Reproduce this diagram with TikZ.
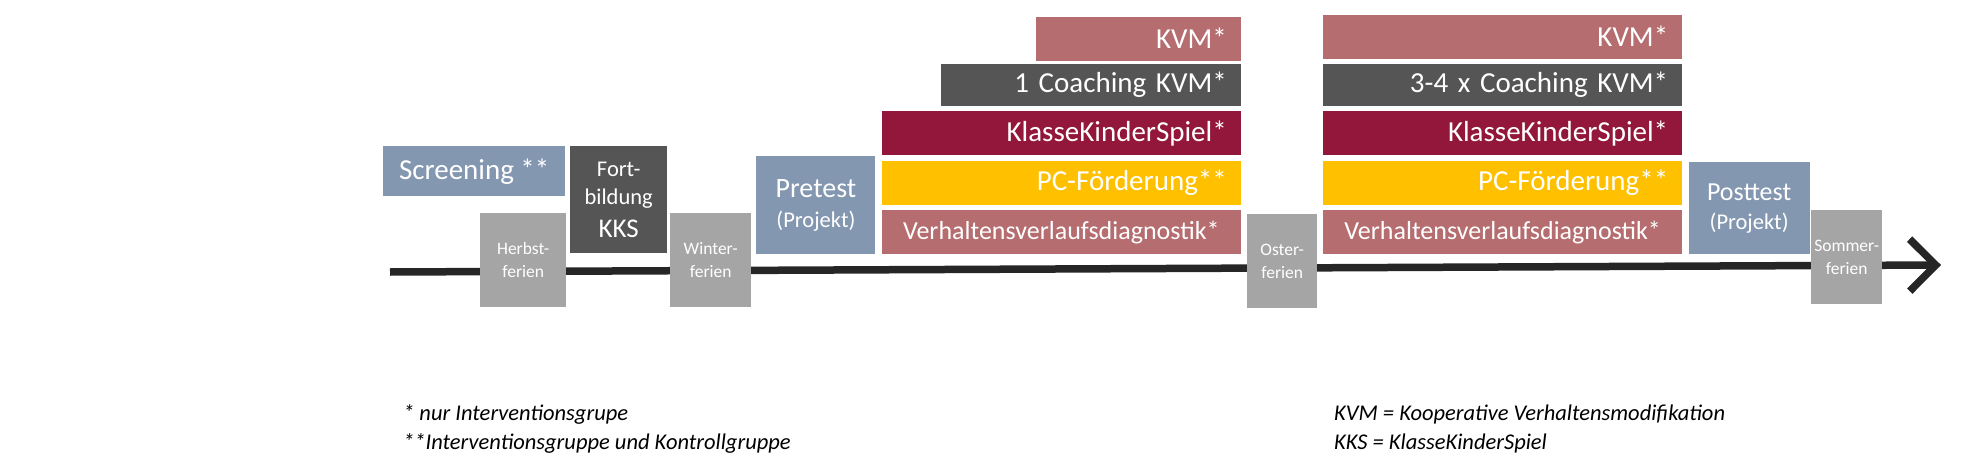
\documentclass[tikz,border=0pt]{standalone}
\usepackage{fontspec}
\setmainfont{Carlito}
\usetikzlibrary{arrows.meta,positioning}
\definecolor{testblue}{HTML}{8497B0}
\definecolor{darkbar}{HTML}{555555}
\definecolor{holgray}{HTML}{A5A5A5}
\definecolor{kvmrose}{HTML}{B56D70}
\definecolor{kksred}{HTML}{93173B}
\definecolor{pcgold}{HTML}{FFC000}
\definecolor{axisblack}{HTML}{262626}
\tikzset{
    phase/.style = {rectangle,fill=testblue,text=white,inner sep=0pt,align=center},
    holiday/.style = {rectangle,fill=holgray,text=white,inner sep=0pt,align=center,
                      minimum height=94pt,font=\fontsize{17.5}{23}\selectfont},
    bar/.style = {rectangle,text=white,inner xsep=14pt,inner ysep=0pt,align=right,
                  minimum height=44pt,font=\fontsize{29}{32}\selectfont},
    legend/.style = {anchor=base west,inner sep=0pt,font=\fontsize{22.5}{27}\selectfont\itshape},
    timeline/.style = {draw=axisblack,line width=7.5pt,-{Straight Barb[length=26pt,width=52pt]}}
}
\begin{document}
\begin{tikzpicture}[x=1pt,y=-1pt]
        \useasboundingbox (0,0) rectangle (1974,455);

        %% Zeitachse
        \coordinate (t000) at (390,272);
        \coordinate (t001) at (1941,265);
        \draw[timeline] (t000) -- (t001);

        %% Vorlauf
        \node[phase,anchor=north west,minimum width=182pt,minimum height=50pt,
              font=\fontsize{29}{32}\selectfont]  (scr) at (383,146)    {Screening **};
        \node[holiday,anchor=north west,minimum width=86pt]  (herbst) at (480,213)    {Herbst-\\ferien};
        \node[phase,fill=darkbar,anchor=north west,minimum width=97pt,minimum height=107pt,
              font=\fontsize{22.5}{28}\selectfont]  (fobi) at (570,146)
              {Fort-\\bildung\\[5pt]\fontsize{27}{30}\selectfont KKS};
        \node[holiday,anchor=north west,minimum width=81pt]  (winter) at (670,213)    {Winter-\\ferien};

        %% Interventionsphase 1
        \node[bar,fill=kvmrose,anchor=north east,text width=331pt,align=center,
              font=\fontsize{26}{30}\selectfont]  (verh1) at (1241,210)    {Verhaltensverlaufsdiagnostik*};
        \node[bar,fill=pcgold,text width=331pt]  (pc1) [above=5pt of verh1.north east,anchor=south east]    {PC-Förderung**};
        \node[bar,fill=kksred,text width=331pt]  (kks1) [above=5pt of pc1.north east,anchor=south east]    {KlasseKinderSpiel*};
        \node[bar,fill=darkbar,text width=272pt,minimum height=42pt]  (coach1) [above=5pt of kks1.north east,anchor=south east]    {1 Coaching KVM*};
        \node[bar,fill=kvmrose,text width=177pt]  (kvm1) [above=3pt of coach1.north east,anchor=south east]    {KVM*};
        \node[phase,minimum width=119pt,minimum height=98pt,
              font=\fontsize{28}{30}\selectfont]  (pre) [left=6pt of verh1.south west,anchor=south east]
              {Pretest\\\fontsize{22.5}{26}\selectfont(Projekt)};
        \node[holiday,anchor=north west,minimum width=70pt]  (oster) at (1247,214)    {Oster-\\ferien};

        %% Interventionsphase 2
        \node[bar,fill=kvmrose,text width=331pt,align=center,
              font=\fontsize{26}{30}\selectfont]  (verh2) [right=82pt of verh1]    {Verhaltensverlaufsdiagnostik*};
        \node[bar,fill=pcgold,text width=331pt]  (pc2) [above=5pt of verh2.north east,anchor=south east]    {PC-Förderung**};
        \node[bar,fill=kksred,text width=331pt]  (kks2) [above=5pt of pc2.north east,anchor=south east]    {KlasseKinderSpiel*};
        \node[bar,fill=darkbar,text width=331pt,minimum height=42pt]  (coach2) [above=5pt of kks2.north east,anchor=south east]    {3-4 x Coaching KVM*};
        \node[bar,fill=kvmrose,text width=331pt]  (kvm2) [above=5pt of coach2.north east,anchor=south east]    {KVM*};
        \node[phase,minimum width=121pt,minimum height=92pt,
              font=\fontsize{26}{29}\selectfont]  (post) [right=6pt of verh2.south east,anchor=south west]
              {Posttest\\\fontsize{22.5}{26}\selectfont(Projekt)};
        \node[holiday,anchor=north west,minimum width=71pt]  (sommer) at (1811,210)    {Sommer-\\ferien};

        %% Legende
        \node[legend]  (leg1) at (403,420)    {* nur Interventionsgrupe};
        \node[legend]  (leg2) at (403,449)    {**Interventionsgruppe und Kontrollgruppe};
        \node[legend]  (leg3) at (1334,420)   {KVM = Kooperative Verhaltensmodifikation};
        \node[legend]  (leg4) at (1334,449)   {KKS = KlasseKinderSpiel};
\end{tikzpicture}
\end{document}
